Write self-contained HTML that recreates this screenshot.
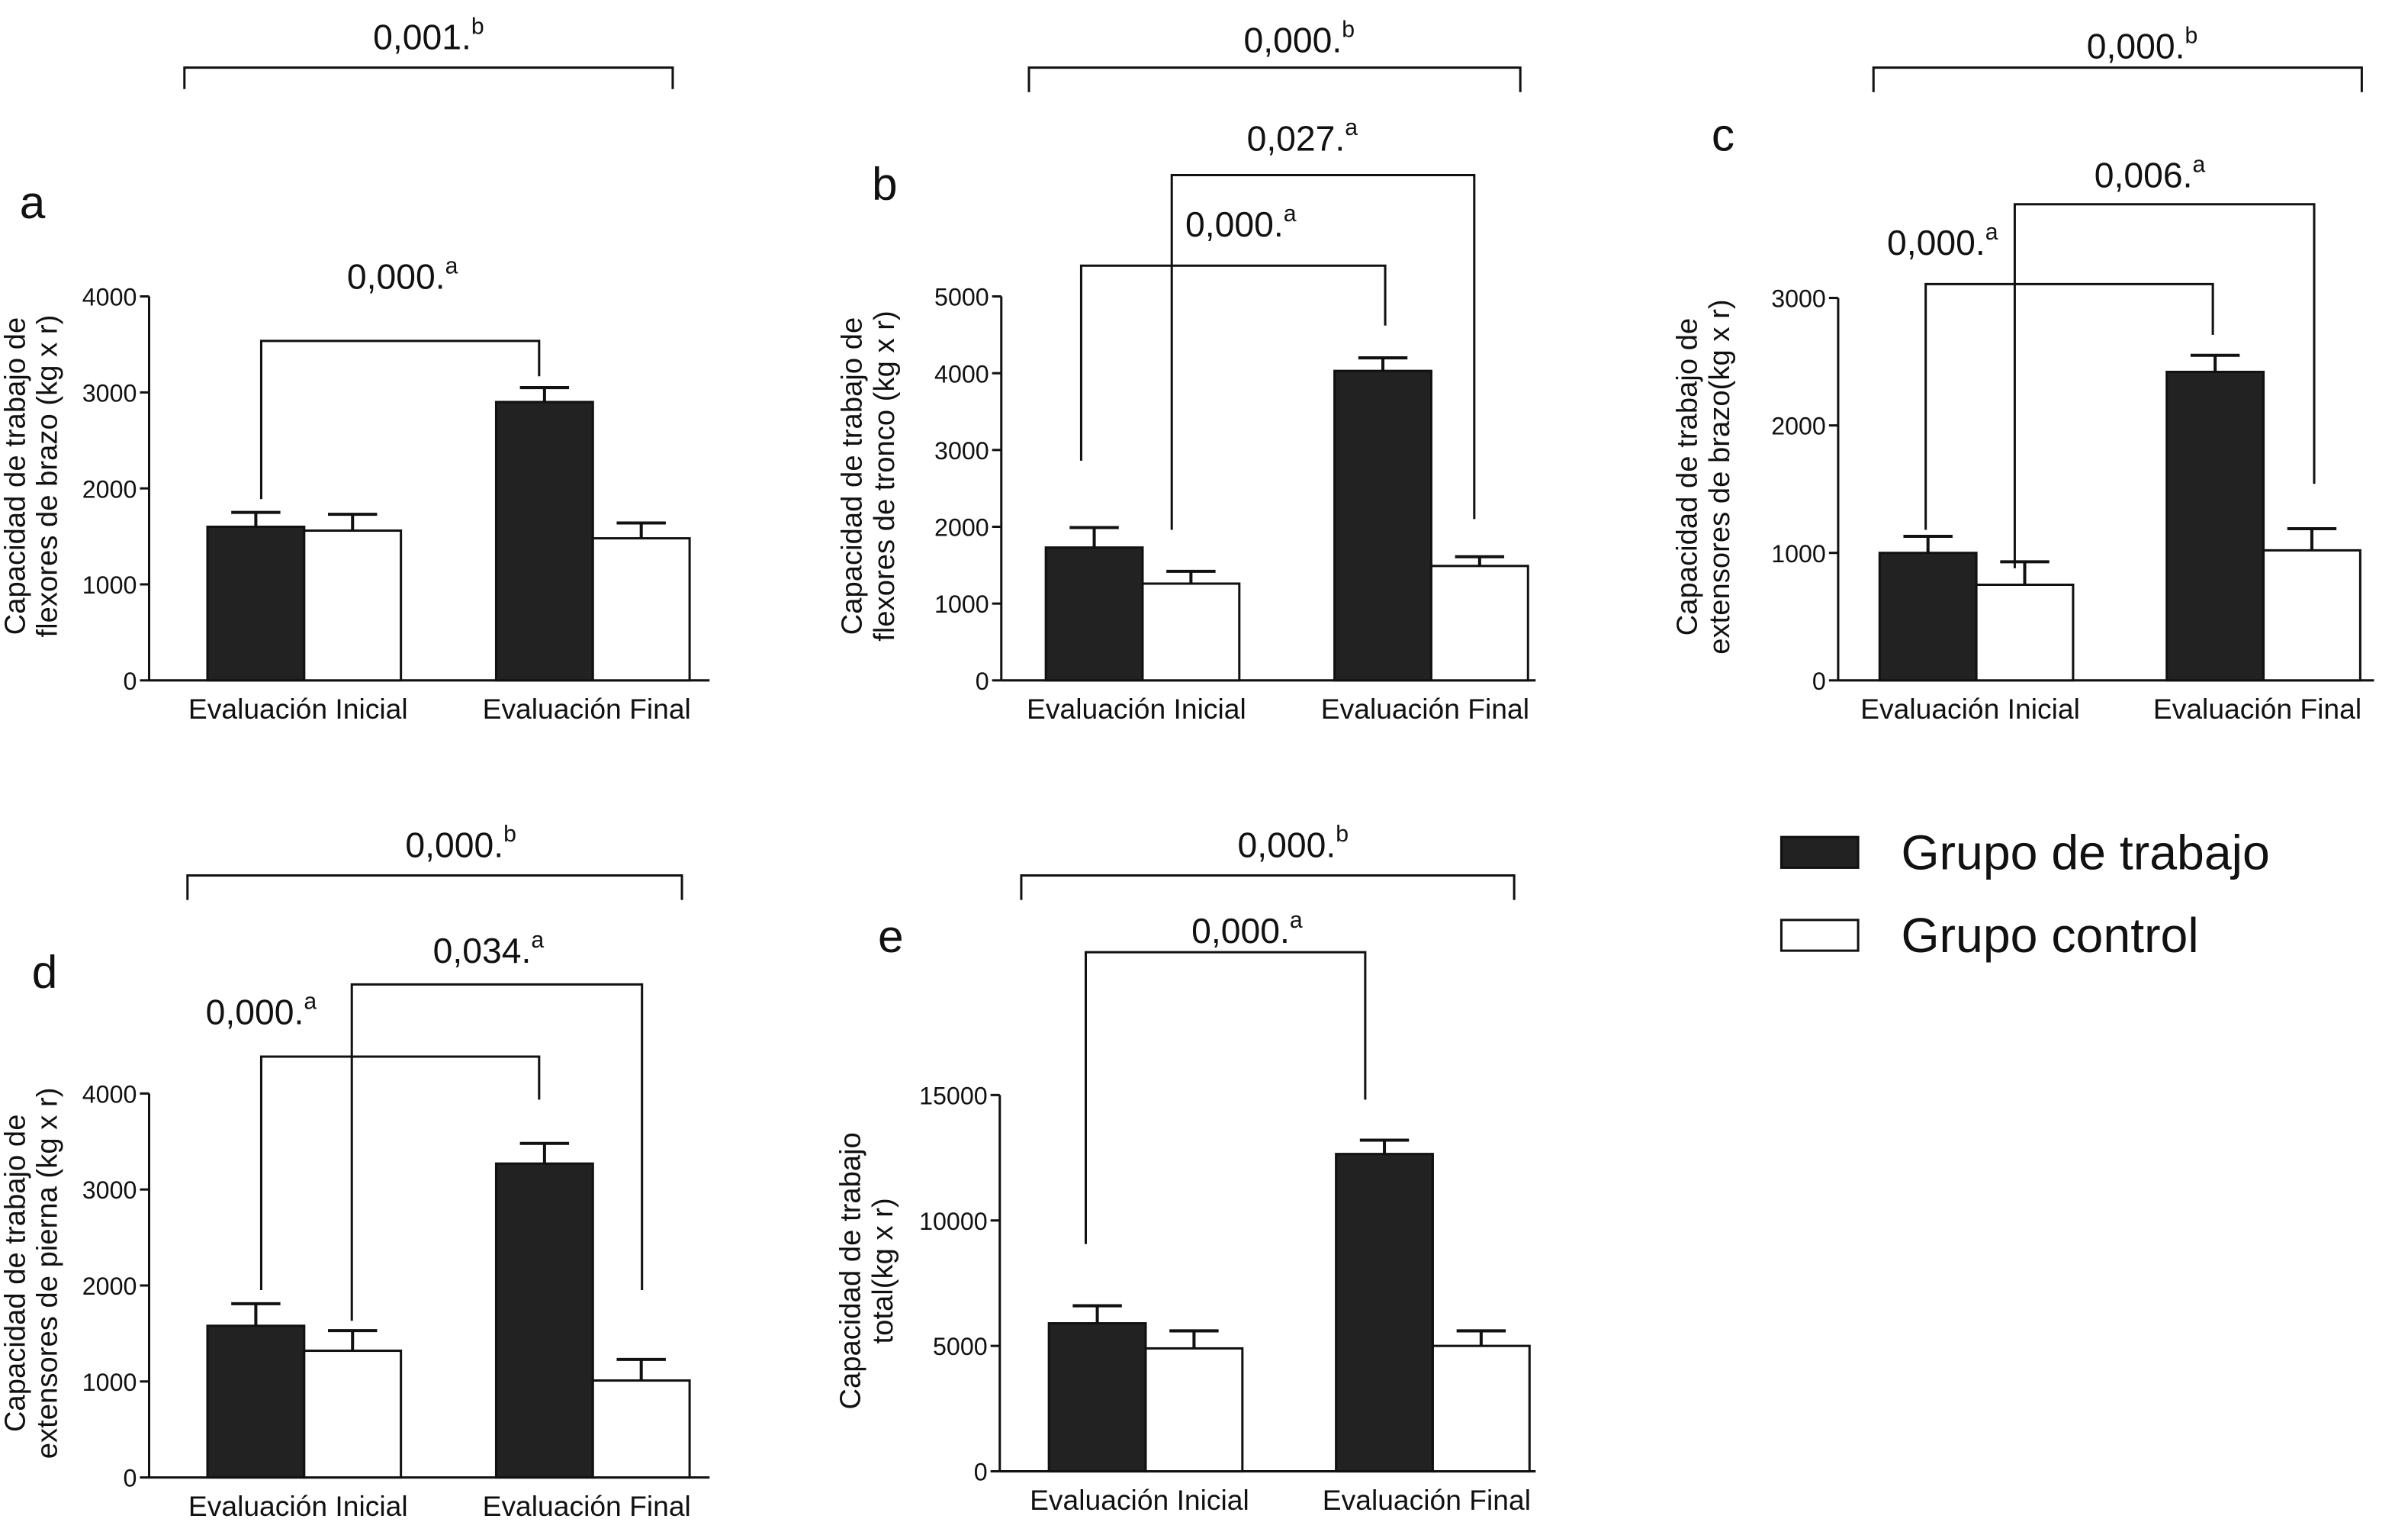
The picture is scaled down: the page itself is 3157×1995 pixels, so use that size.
<!DOCTYPE html>
<html><head><meta charset="utf-8"><style>
html,body{margin:0;padding:0;background:#fff;}
svg{display:block;font-family:"Liberation Sans",Arial,sans-serif;}
</style></head><body>
<svg id="chart" width="3157" height="1995" viewBox="0 0 1568 991" xmlns="http://www.w3.org/2000/svg"></svg>
<script>
const categories = ["Evaluación Inicial","Evaluación Final"];
const seriesNames = ["Grupo de trabajo","Grupo control"];
const aWork = [1600, 2900], aCtrl = [1560, 1480], aWorkErr = [1750, 3050], aCtrlErr = [1730, 1640];
const bWork = [1730, 4030], bCtrl = [1260, 1490], bWorkErr = [1990, 4200], bCtrlErr = [1420, 1610];
const cWork = [1000, 2420], cCtrl = [750, 1020], cWorkErr = [1130, 2550], cCtrlErr = [930, 1190];
const dWork = [1580, 3270], dCtrl = [1320, 1010], dWorkErr = [1810, 3480], dCtrlErr = [1530, 1230];
const eWork = [5900, 12650], eCtrl = [4900, 5000], eWorkErr = [6600, 13200], eCtrlErr = [5600, 5600];
const aTicks = [0,1000,2000,3000,4000];
const bTicks = [0,1000,2000,3000,4000,5000];
const cTicks = [0,1000,2000,3000];
const dTicks = [0,1000,2000,3000,4000];
const eTicks = [0,5000,10000,15000];
const pLabels = ["0,001.","0,000.","0,000.","0,000.","0,000.","0,027.","0,000.","0,006.","0,000.","0,000.","0,034."];

const NS="http://www.w3.org/2000/svg";
const svg=document.getElementById('chart');
function mk(tag,attrs,parent){const e=document.createElementNS(NS,tag);for(const k in attrs)e.setAttribute(k,attrs[k]);(parent||svg).appendChild(e);return e;}
function txt(s,x,y,size,anchor,parent){const t=mk('text',{x:x,y:y,'font-size':size,'text-anchor':anchor||'middle',fill:'#111'},parent);t.textContent=s;return t;}

function panel(o){
  const g=mk('g',{});
  
  
  const max=o.ticks[o.ticks.length-1];
  const y=v=>o.y0-(v/max)*(o.y0-o.yTop);
  const ax=mk('line',{x1:o.ax,y1:o.yTop,x2:o.ax,y2:o.y0,stroke:'#111','stroke-width':1.5},g);
  
  
  mk('line',{x1:o.ax,y1:o.y0,x2:o.axEnd,y2:o.y0,stroke:'#111','stroke-width':1.5},g);
  o.ticks.forEach(t=>{
    mk('line',{x1:o.ax-6,y1:y(t),x2:o.ax,y2:y(t),stroke:'#111','stroke-width':1.5},g);
    const tl=txt(String(t),o.ax-8,y(t)+6,16,'end',g);
    
    
  });
  const groupStart=[o.g1,o.g2];
  const bw=o.bw;
  const work=o.work,ctrl=o.ctrl,we=o.we,ce=o.ce;
  for(let i=0;i<2;i++){
    const xs=[groupStart[i],groupStart[i]+bw];
    [[work[i],we[i],'#222'],[ctrl[i],ce[i],'#fff']].forEach((d,j)=>{
      const cx=xs[j]+bw/2;
      mk('line',{x1:cx,y1:y(d[0]),x2:cx,y2:y(d[1]),stroke:'#111','stroke-width':2},g);
      mk('line',{x1:cx-16,y1:y(d[1]),x2:cx+16,y2:y(d[1]),stroke:'#111','stroke-width':2},g);
      const r=mk('rect',{x:xs[j],y:y(d[0]),width:bw,height:o.y0-y(d[0]),fill:d[2],stroke:'#111','stroke-width':1.5},g);
      
      
    });
    const xl=txt(categories[i],groupStart[i]+bw-4,o.xLabY,18.5,'middle',g);
    
    
  }
  const yt=mk('text',{transform:`translate(${o.ytx},${(o.yTop+o.y0)/2-8}) rotate(-90)`,'font-size':19,'text-anchor':'middle',fill:'#111'},g);
  
  
  const t1=mk('tspan',{x:0,dy:0},yt);t1.textContent=o.title[0];
  const t2=mk('tspan',{x:0,dy:21},yt);t2.textContent=o.title[1];
  const lt=txt(o.id,o.letter[0],o.letter[1],30,'middle',g);
  
  
  o.brackets.forEach(b=>{
    const bg=mk('g',{},g);
    
    
    mk('path',{d:`M${b.x1},${b.l} V${b.y} H${b.x2} V${b.r}`,fill:'none',stroke:'#111','stroke-width':1.5},bg);
    const t=txt(b.t,b.tx,b.ty,23,'middle',bg);
    const s=mk('tspan',{'font-size':15,dy:-10},t);s.textContent=b.sup;
  });
}

panel({id:'a',ax:97,axEnd:462,yTop:193,y0:443,ticks:aTicks,g1:135,g2:323,bw:63,work:aWork,ctrl:aCtrl,we:aWorkErr,ce:aCtrlErr,xLabY:468,ytx:16,title:["Capacidad de trabajo de","flexores de brazo (kg x r)"],letter:[21,142],
 brackets:[{x1:120,x2:438,y:44,l:58,r:58,t:pLabels[0],sup:'b',tx:279,ty:32},{x1:170,x2:351,y:222,l:325,r:245,t:pLabels[1],sup:'a',tx:262,ty:188}]});
panel({id:'b',ax:652,axEnd:1000,yTop:193,y0:443,ticks:bTicks,g1:681,g2:869,bw:63,work:bWork,ctrl:bCtrl,we:bWorkErr,ce:bCtrlErr,xLabY:468,ytx:561,title:["Capacidad de trabajo de","flexores de tronco (kg x r)"],letter:[576,130],
 brackets:[{x1:670,x2:990,y:44,l:60,r:60,t:pLabels[2],sup:'b',tx:846,ty:34},{x1:704,x2:902,y:173,l:300,r:212,t:pLabels[4],sup:'a',tx:808,ty:154},{x1:763,x2:960,y:114,l:345,r:338,t:pLabels[5],sup:'a',tx:848,ty:98}]});
panel({id:'c',ax:1197,axEnd:1546,yTop:194,y0:443,ticks:cTicks,g1:1224,g2:1411,bw:63,work:cWork,ctrl:cCtrl,we:cWorkErr,ce:cCtrlErr,xLabY:468,ytx:1105,title:["Capacidad de trabajo de","extensores de brazo(kg x r)"],letter:[1122,98],
 brackets:[{x1:1220,x2:1538,y:44,l:60,r:60,t:pLabels[3],sup:'b',tx:1395,ty:38},{x1:1254,x2:1441,y:185,l:345,r:218,t:pLabels[6],sup:'a',tx:1265,ty:166},{x1:1312,x2:1507,y:133,l:370,r:315,t:pLabels[7],sup:'a',tx:1400,ty:122}]});
panel({id:'d',ax:97,axEnd:462,yTop:712,y0:962,ticks:dTicks,g1:135,g2:323,bw:63,work:dWork,ctrl:dCtrl,we:dWorkErr,ce:dCtrlErr,xLabY:987,ytx:16,title:["Capacidad de trabajo de","extensores de pierna (kg x r)"],letter:[29,643],
 brackets:[{x1:122,x2:444,y:570,l:586,r:586,t:pLabels[8],sup:'b',tx:300,ty:558},{x1:170,x2:351,y:688,l:840,r:716,t:pLabels[9],sup:'a',tx:170,ty:667},{x1:229,x2:418,y:641,l:860,r:840,t:pLabels[10],sup:'a',tx:318,ty:627}]});
panel({id:'e',ax:651,axEnd:1000,yTop:713,y0:958,ticks:eTicks,g1:683,g2:870,bw:63,work:eWork,ctrl:eCtrl,we:eWorkErr,ce:eCtrlErr,xLabY:983,ytx:560,title:["Capacidad de trabajo","total(kg x r)"],letter:[580,620],
 brackets:[{x1:665,x2:986,y:570,l:586,r:586,t:"0,000.",sup:'b',tx:842,ty:558},{x1:707,x2:889,y:620,l:810,r:716,t:"0,000.",sup:'a',tx:812,ty:614}]});

const lg=mk('g',{});


[['#222',545,0],['#fff',599,1]].forEach(d=>{
  const e=mk('g',{},lg);
  
  
  mk('rect',{x:1160,y:d[1],width:50,height:20,fill:d[0],stroke:'#111','stroke-width':1.5},e);
  txt(seriesNames[d[2]],1238,d[1]+21,32,'start',e);
});
</script>
</body></html>
